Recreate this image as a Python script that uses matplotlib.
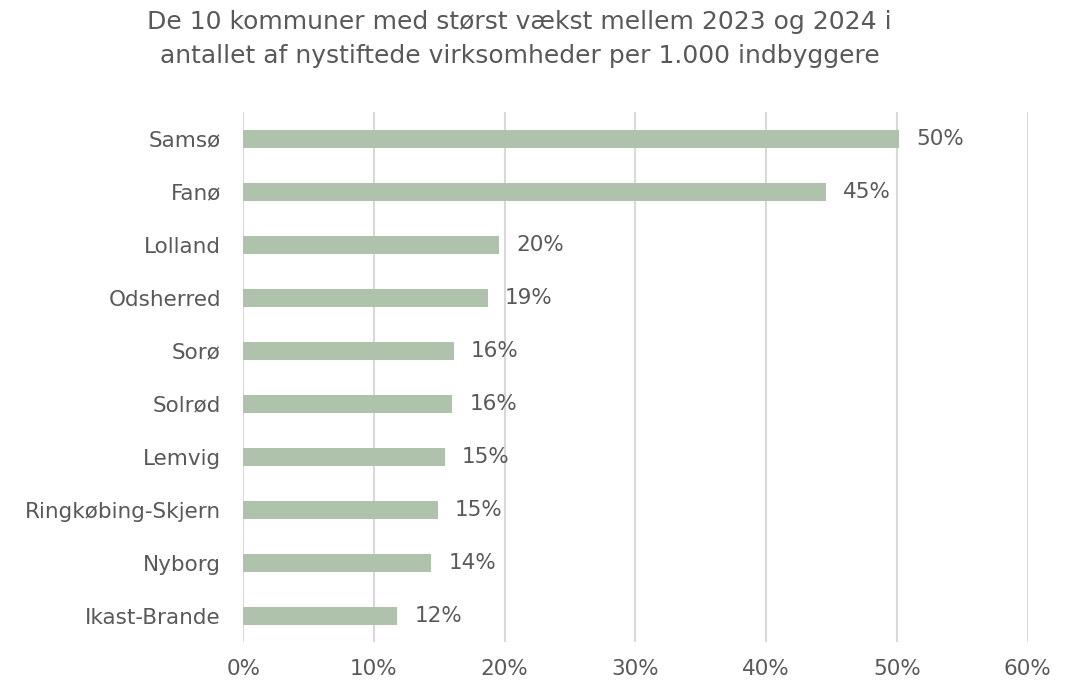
import matplotlib.pyplot as plt
import numpy as np

plt.rcParams['font.family'] = ['DejaVu Sans']

kommuner = ['Samsø', 'Fanø', 'Lolland', 'Odsherred', 'Sorø', 'Solrød', 'Lemvig',
            'Ringkøbing-Skjern', 'Nyborg', 'Ikast-Brande']
vaekst = [50.2, 44.6, 19.6, 18.7, 16.1, 16.0, 15.4, 14.9, 14.4, 11.8]
xticks = [0, 10, 20, 30, 40, 50, 60]

bar_color = '#afc3ac'
text_color = '#595959'

fig = plt.figure(figsize=(10.76, 6.84), dpi=100)
ax = fig.add_axes([0.226, 0.061, 0.729, 0.775])

y = np.arange(len(kommuner))
ax.barh(y, vaekst, height=0.34, color=bar_color, zorder=3)
for yi, v in zip(y, vaekst):
    ax.text(v + 1.3, yi, f'{round(v):.0f}%', va='center', ha='left',
            fontsize=15.5, color=text_color)

ax.set_yticks(y)
ax.set_yticklabels(kommuner, fontsize=15.5, color=text_color)
ax.set_ylim(len(kommuner) - 0.5, -0.5)
ax.set_xlim(0, 60)
ax.set_xticks(xticks)
ax.set_xticklabels([f'{t}%' for t in xticks], fontsize=15.5, color=text_color)
ax.xaxis.grid(True, color='#d9d9d9', linewidth=1.5, zorder=0)
ax.tick_params(length=0, pad=12)
ax.tick_params(axis='y', pad=16)
for s in ax.spines.values():
    s.set_visible(False)

fig.text(0.483, 0.985, 'De 10 kommuner med størst vækst mellem 2023 og 2024 i\n'
         'antallet af nystiftede virksomheder per 1.000 indbyggere',
         ha='center', va='top', fontsize=18, color=text_color, linespacing=1.5)

fig.savefig('out.png', dpi=100)
